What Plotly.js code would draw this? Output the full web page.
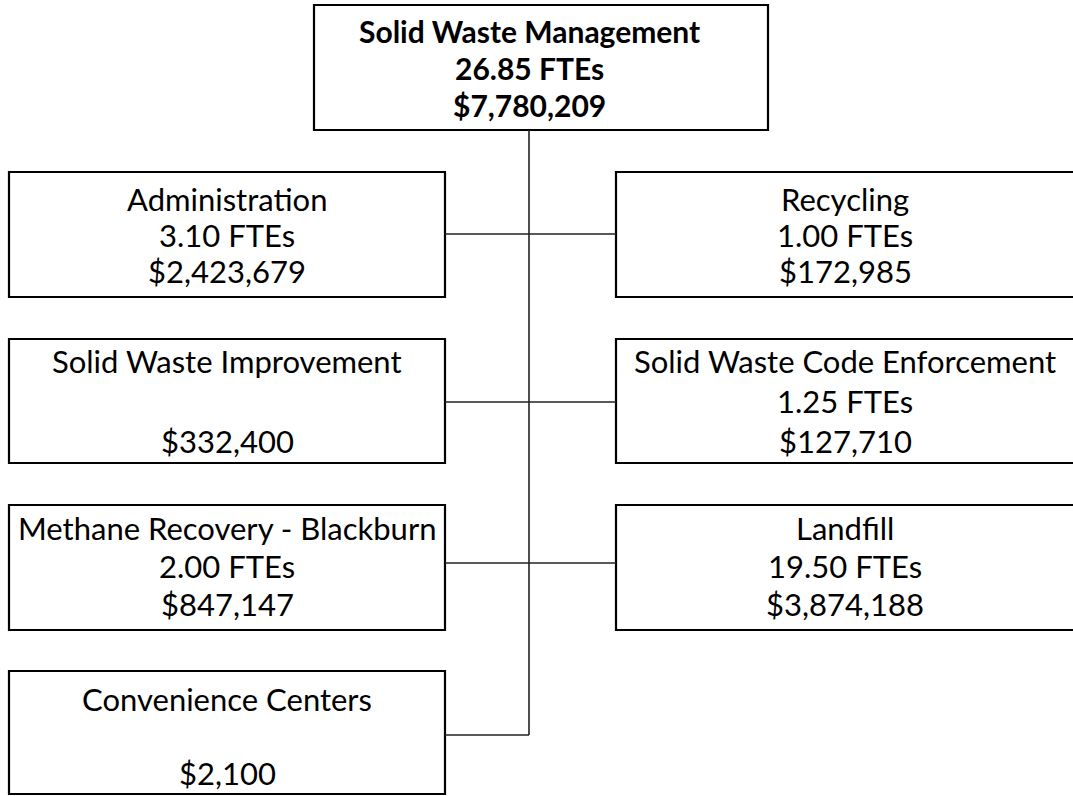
<!DOCTYPE html>
<html>
<head>
<meta charset="utf-8">
<script src="https://cdn.plot.ly/plotly-3.0.1.min.js"></script>
<style>html,body{margin:0;padding:0;background:#fff;}#chart{width:1073px;height:796px;}</style>
</head>
<body>
<div id="chart"></div>
<script>
// ---- data ----
const rootName = "Solid Waste Management";
const rootFtes = 26.85;
const rootBudget = 7780209;

const units   = ["Administration", "Solid Waste Improvement", "Methane Recovery - Blackburn", "Convenience Centers",
                 "Recycling", "Solid Waste Code Enforcement", "Landfill"];
const ftes    = [3.10, null, 2.00, null, 1.00, 1.25, 19.50];
const budgets = [2423679, 332400, 847147, 2100, 172985, 127710, 3874188];

// ---- layout (positions in page pixels, mapped through hidden axes) ----
const side    = ["L", "L", "L", "L", "R", "R", "R"];
const row     = [0, 1, 2, 3, 0, 1, 2];
const rowTop  = [172, 339, 505, 671];
const rowBot  = [297, 463, 630, 794];
const rowLink = [234, 402, 563, 735];
const rowText = [234.5, 401, 566, 736];
const rowGap  = [36, 40, 38, 37];
const colX = { L: [9, 445], R: [616, 1078] };
const colTextX = { L: 227, R: 845 };
const spineX = 529;
const root = { x0: 314, x1: 768, y0: 5, y1: 130, tx: 529 };

const fmtMoney = v => "$" + v.toLocaleString("en-US");
const fmtFte = v => v.toFixed(2) + " FTEs";

const FONT = "Lato, 'Open Sans', sans-serif";
const FS = 31;

const shapes = [];
const annotations = [];
const boxLine = { color: "#000", width: 2.2 };
const linkLine = { color: "#222", width: 1.6 };

// root box
shapes.push({ type: "rect", xref: "x", yref: "y", x0: root.x0, x1: root.x1, y0: root.y0, y1: root.y1, line: boxLine, fillcolor: "rgba(0,0,0,0)" });
const rc = (root.y0 + root.y1) / 2;
[rootName, fmtFte(rootFtes), fmtMoney(rootBudget)].forEach((t, i) => {
  annotations.push({ x: root.tx, y: rc + (i - 1) * 37, xref: "x", yref: "y", text: "<b>" + t + "</b>", showarrow: false,
    xanchor: "center", yanchor: "middle", font: { family: FONT, size: FS - 1, color: "#000" } });
});

// spine
shapes.push({ type: "line", xref: "x", yref: "y", x0: spineX, x1: spineX, y0: root.y1, y1: rowLink[3], line: linkLine });

units.forEach((name, i) => {
  const [x0, x1] = colX[side[i]];
  const r = row[i];
  const y0 = rowTop[r], y1 = rowBot[r];
  shapes.push({ type: "rect", xref: "x", yref: "y", x0, x1, y0, y1, line: boxLine, fillcolor: "rgba(0,0,0,0)" });
  const ly = rowLink[r];
  shapes.push({ type: "line", xref: "x", yref: "y", x0: side[i] === "L" ? x1 : spineX, x1: side[i] === "L" ? spineX : x0, y0: ly, y1: ly, line: linkLine });
  const cx = colTextX[side[i]];
  const lines = [name, ftes[i] == null ? "" : fmtFte(ftes[i]), fmtMoney(budgets[i])];
  lines.forEach((t, k) => {
    if (!t) return;
    annotations.push({ x: cx, y: rowText[r] + (k - 1) * rowGap[r], xref: "x", yref: "y", text: t, showarrow: false,
      xanchor: "center", yanchor: "middle", font: { family: FONT, size: FS, color: "#000" } });
  });
});

const layout = {
  width: 1073, height: 796,
  margin: { l: 0, r: 0, t: 0, b: 0 },
  paper_bgcolor: "#fff", plot_bgcolor: "#fff",
  xaxis: { range: [0, 1073], visible: false, fixedrange: true },
  yaxis: { range: [796, 0], visible: false, fixedrange: true },
  showlegend: false,
  shapes, annotations
};

Plotly.newPlot("chart", [{ x: [], y: [], type: "scatter", mode: "markers", hoverinfo: "skip" }], layout, { displayModeBar: false, staticPlot: true });
</script>
</body>
</html>
